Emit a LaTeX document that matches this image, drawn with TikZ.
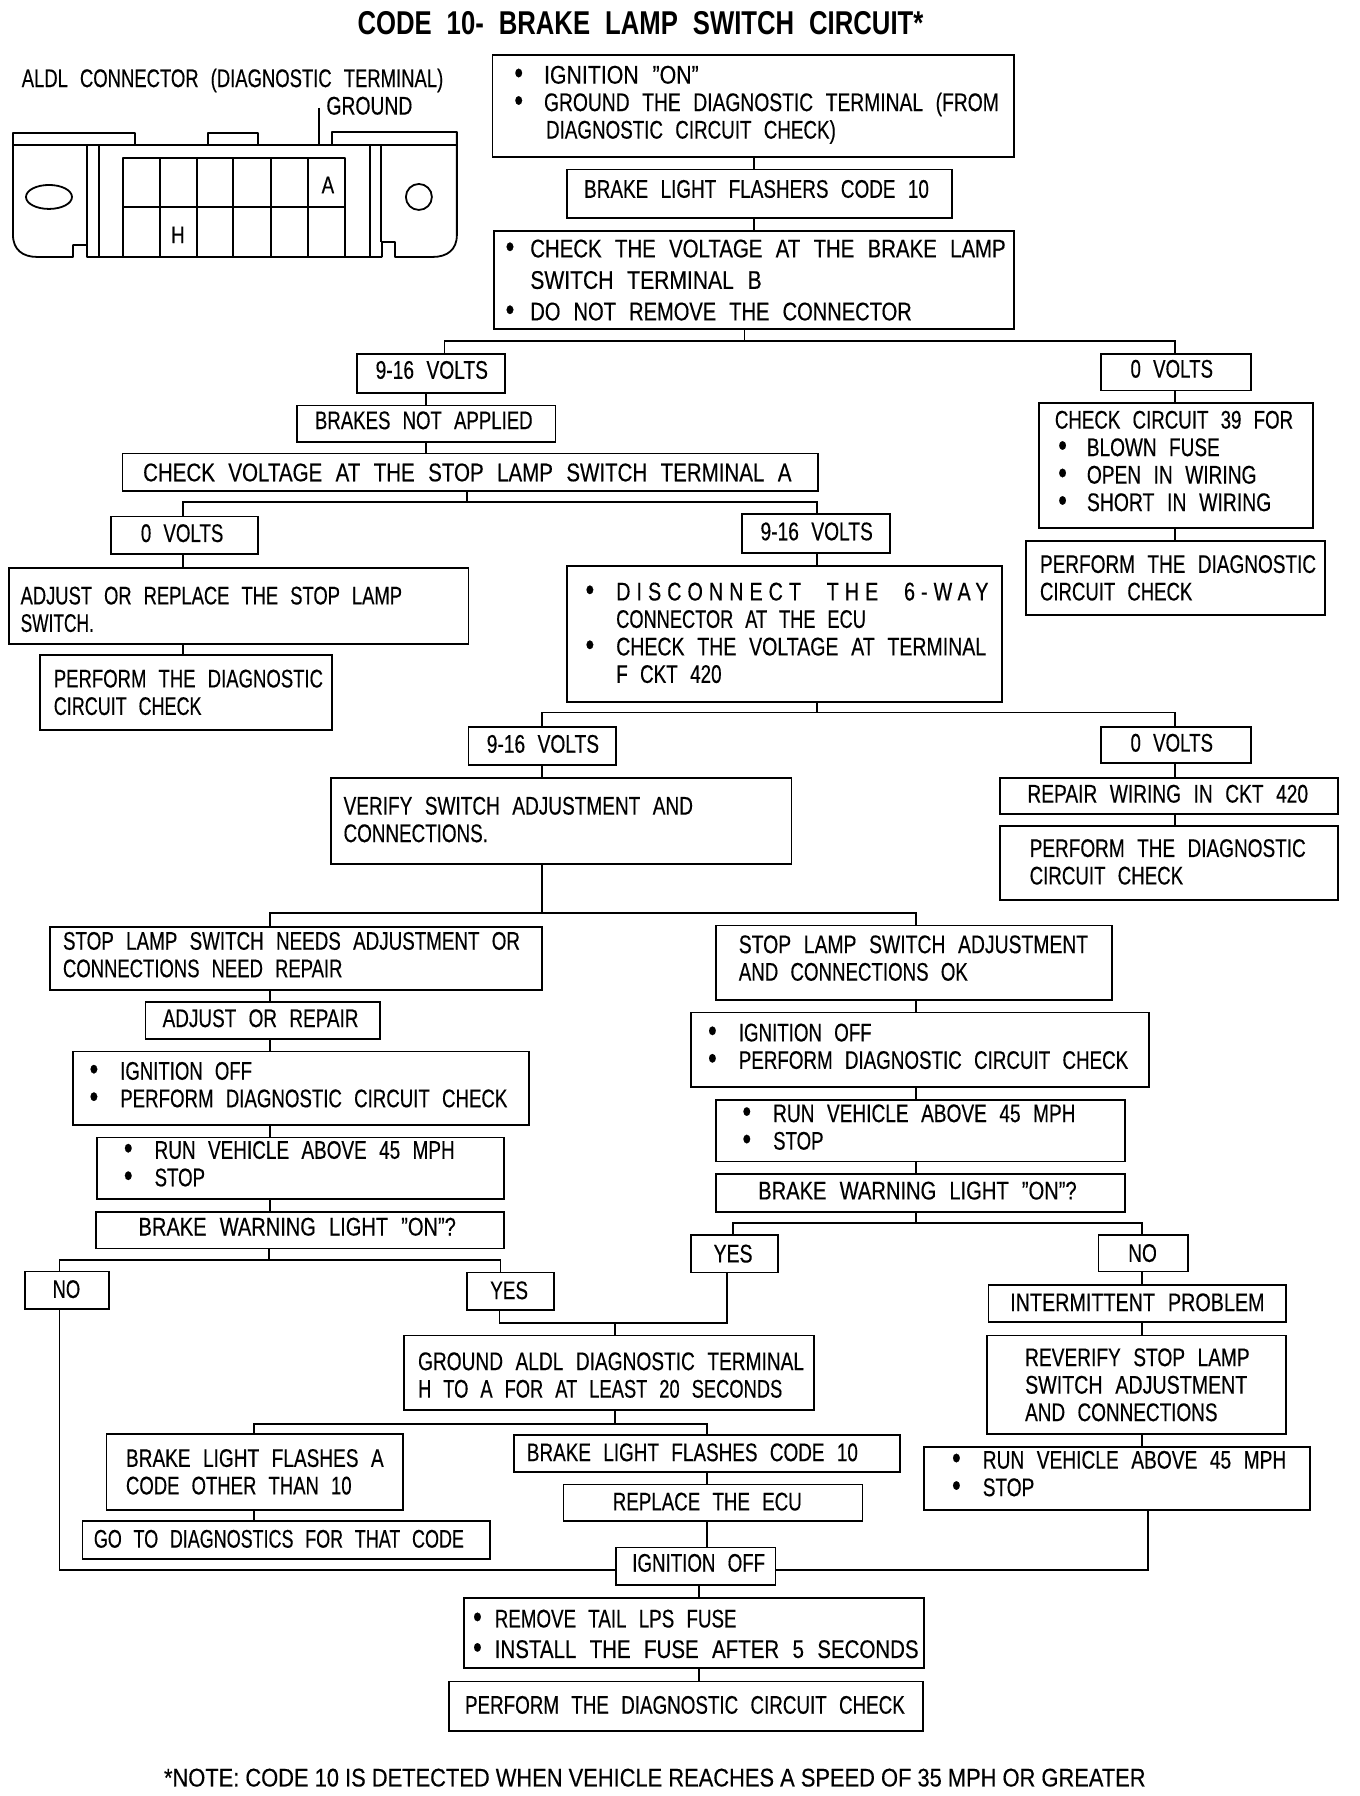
\documentclass[tikz,border=0pt]{standalone}
\usepackage{fontspec}
\usepackage{graphicx}
\setmainfont[FakeStretch=0.78,FakeBold=0.35]{Liberation Sans}
\newfontfamily\titlefont[FakeStretch=0.78]{Liberation Sans Bold}
\newfontfamily\notefont[FakeStretch=0.85,FakeBold=0.35]{Liberation Sans}
\newcommand{\fs}{\fontsize{25.5}{27.5}\selectfont\spaceskip=13pt\relax}
\newcommand{\tfs}{\fontsize{33}{35}\titlefont\spaceskip=15pt\relax}
\newsavebox{\flbox}
\newcommand{\fl}[2]{\sbox{\flbox}{#2}\pgfmathsetmacro\flk{#1*1.1457/\wd\flbox}\scalebox{\flk}[1]{\usebox{\flbox}}}
\tikzset{
  flowbox/.style={draw=black,line width=1.8pt,fill=white,inner sep=0pt,outer sep=0pt,align=left},
  link/.style={draw=black,line width=1.8pt,line join=miter},
  art/.style={draw=black,line width=1.8pt,line join=round},
  lbl/.style={inner sep=0pt,outer sep=0pt,anchor=base west,font=\fs}
}
\newcommand{\bul}[1]{\leavevmode\llap{\scalebox{1.25}{\textbullet}\hspace*{\dimexpr#1pt+2pt\relax}}}
\newcommand{\bx}[8][0]{%
  \pgfmathsetmacro\bxW{(#5-#3)*1.1457}%
  \pgfmathsetmacro\bxH{(#6-#4)*1.1457}%
  \pgfmathsetmacro\bxX{(#3+#5)/2}%
  \pgfmathsetmacro\bxY{(#4+#6)/2}%
  \pgfmathsetmacro\bxP{(#7-#3)*1.1457}%
  \pgfmathsetmacro\bxA{max(#1,0)*2*1.1457}%
  \pgfmathsetmacro\bxB{max(-(#1),0)*2*1.1457}%
  \node[flowbox,minimum width=\bxW pt,minimum height=\bxH pt,text width=\bxW pt] (#2) at (\bxX,\bxY)
    {\hrule height \bxB pt width 0pt\relax\fs\leftskip=\bxP pt\relax\rightskip=-400pt plus 1fil\relax\parindent=0pt #8\par\nointerlineskip\hrule height \bxA pt width 0pt\relax};%
}
\newcommand{\vl}[3]{\coordinate (vv) at (#3,0);\draw[link] (#1.south -| vv) -- (#2.north -| vv);}
\newcommand{\fork}[7]{%
  \coordinate (jn) at (#2,#3);\coordinate (jl) at (#5,#3);\coordinate (jr) at (#7,#3);
  \draw[link] (#1.south -| jn) -- (jn);
  \draw[link] (#4.north -| jl) -- (jl) -- (jr) -- (#6.north -| jr);}
\begin{document}
\begin{tikzpicture}[x=1.1457pt,y=-1.1457pt]
\useasboundingbox[fill=white] (0,0) rectangle (1187,1568);
% title and note
\node[inner sep=0pt,anchor=west,font=\tfs] (title) at (312,20) {\fl{494}{CODE 10- BRAKE LAMP SWITCH CIRCUIT*}};
\node[inner sep=0pt,anchor=west,font=\fontsize{25.5}{27}\notefont] (note) at (143,1552) {\fl{857}{*NOTE: CODE 10 IS DETECTED WHEN VEHICLE REACHES A SPEED OF 35 MPH OR GREATER}};
% connector drawing
\node[lbl] (aldl) at (19,76) {\fl{368}{ALDL CONNECTOR (DIAGNOSTIC TERMINAL)}};
\node[lbl] (ground) at (285,100) {\fl{75}{GROUND}};
\begin{scope}[x=1pt,y=-1pt]
\draw[art] (13,145) -- (457,145);
\draw[art] (13,145) -- (13,133) -- (135,133) -- (135,145);
\draw[art] (208,145) -- (208,133) -- (258,133) -- (258,145);
\draw[art] (332,145) -- (332,132) -- (457,132) -- (457,235) .. controls (457,250) and (447,257) .. (433,257)
  -- (395,257) -- (395,242) -- (382,242) -- (382,257) -- (87,257) -- (87,245) -- (73,245) -- (73,257) -- (37,257)
  .. controls (23,257) and (13,250) .. (13,235) -- (13,145);
\draw[art] (87,145) -- (87,257) (99,145) -- (99,257) (370,145) -- (370,257) (381,145) -- (381,242);
\draw[art] (123,158) rectangle (345,257);
\draw[art] (123,207) -- (345,207);
\foreach \gx in {160,197,233,271,308} \draw[art] (\gx,158) -- (\gx,257);
\draw[art] (49,197) ellipse (23 and 12);
\draw[art] (419,197) circle (13);
\draw[art] (319,108) -- (319,145);
\node[inner sep=0pt,font=\fontsize{24}{26}\selectfont] (pina) at (328,185) {A};
\node[inner sep=0pt,font=\fontsize{24}{26}\selectfont] (pinh) at (178,235) {H};
\end{scope}
% flow boxes
\bx[1]{b1}{430}{48}{885}{137}{475}{\bul{19}\fl{135}{IGNITION "ON"}\\\bul{19}\fl{397}{GROUND THE DIAGNOSTIC TERMINAL (FROM}\\\hspace*{2pt}\fl{253}{DIAGNOSTIC CIRCUIT CHECK)}}
\bx[4]{b2}{495}{148}{831}{190}{510}{\fl{301}{BRAKE LIGHT FLASHERS CODE 10}}
\bx{b3}{431}{202}{885}{287}{463}{\bul{14}\fl{415}{CHECK THE VOLTAGE AT THE BRAKE LAMP}\\[4pt]\fl{202}{SWITCH TERMINAL B}\\[4pt]\bul{14}\fl{333}{DO NOT REMOVE THE CONNECTOR}}
\bx[3]{v1}{312}{309}{441}{343}{328}{\fl{98}{9-16 VOLTS}}
\bx[3]{o1}{961}{309}{1092}{341}{987}{\fl{72}{0 VOLTS}}
\bx[3]{nb}{259}{354}{485}{386}{275}{\fl{190}{BRAKES NOT APPLIED}}
\bx{ck}{107}{396}{714}{429}{125}{\fl{566}{CHECK VOLTAGE AT THE STOP LAMP SWITCH TERMINAL A}}
\bx[4]{c39}{907}{352}{1146}{461}{921}{\fl{208}{CHECK CIRCUIT 39 FOR}\\\hspace*{32pt}\bul{18}\fl{116}{BLOWN FUSE}\\\hspace*{32pt}\bul{18}\fl{148}{OPEN IN WIRING}\\\hspace*{32pt}\bul{18}\fl{161}{SHORT IN WIRING}}
\bx{p1}{896}{472}{1157}{537}{908}{\fl{241}{PERFORM THE DIAGNOSTIC}\\\fl{133}{CIRCUIT CHECK}}
\bx[2]{o2}{97}{451}{225}{484}{123}{\fl{72}{0 VOLTS}}
\bx[2]{v2}{648}{449}{777}{483}{664}{\fl{98}{9-16 VOLTS}}
\bx[-3]{adj}{8}{496}{409}{562}{18}{\fl{333}{ADJUST OR REPLACE THE STOP LAMP}\\\fl{64}{SWITCH.}}
\bx{p2}{35}{572}{290}{637}{47}{\fl{235}{PERFORM THE DIAGNOSTIC}\\\fl{129}{CIRCUIT CHECK}}
\bx[1]{dis}{495}{494}{875}{613}{538}{\bul{20}\fl{325}{\addfontfeature{LetterSpace=24}\spaceskip=26pt\relax DISCONNECT THE 6-WAY}\\\fl{218}{CONNECTOR AT THE ECU}\\\bul{20}\fl{323}{CHECK THE VOLTAGE AT TERMINAL}\\\fl{92}{F CKT 420}}
\bx[2]{v3}{409}{635}{538}{668}{425}{\fl{98}{9-16 VOLTS}}
\bx[2]{o3}{961}{635}{1092}{666}{987}{\fl{72}{0 VOLTS}}
\bx[1]{ver}{289}{679}{691}{754}{300}{\fl{305}{VERIFY SWITCH ADJUSTMENT AND}\\\fl{126}{CONNECTIONS.}}
\bx[2]{rep}{873}{679}{1168}{711}{897}{\fl{245}{REPAIR WIRING IN CKT 420}}
\bx[1]{p3}{873}{721}{1168}{786}{899}{\fl{241}{PERFORM THE DIAGNOSTIC}\\\fl{134}{CIRCUIT CHECK}}
\bx[3]{sl}{44}{809}{473}{864}{55}{\fl{399}{STOP LAMP SWITCH NEEDS ADJUSTMENT OR}\\\fl{244}{CONNECTIONS NEED REPAIR}}
\bx[4]{sr}{625}{808}{971}{873}{645}{\fl{305}{STOP LAMP SWITCH ADJUSTMENT}\\\fl{200}{AND CONNECTIONS OK}}
\bx[2]{ar}{127}{875}{332}{907}{142}{\fl{171}{ADJUST OR REPAIR}}
\bx[3]{il}{64}{918}{462}{982}{105}{\bul{20}\fl{115}{IGNITION OFF}\\\bul{20}\fl{338}{PERFORM DIAGNOSTIC CIRCUIT CHECK}}
\bx[3]{ir}{603}{884}{1003}{949}{645}{\bul{20}\fl{116}{IGNITION OFF}\\\bul{20}\fl{340}{PERFORM DIAGNOSTIC CIRCUIT CHECK}}
\bx[4]{rl}{85}{993}{440}{1047}{135}{\bul{20}\fl{262}{RUN VEHICLE ABOVE 45 MPH}\\\bul{20}\fl{44}{STOP}}
\bx[3]{rr}{625}{960}{982}{1014}{675}{\bul{20}\fl{264}{RUN VEHICLE ABOVE 45 MPH}\\\bul{20}\fl{44}{STOP}}
\bx[3]{wl}{84}{1058}{440}{1090}{121}{\fl{277}{BRAKE WARNING LIGHT "ON"?}}
\bx[2]{wr}{625}{1025}{982}{1058}{662}{\fl{278}{BRAKE WARNING LIGHT "ON"?}}
\bx[1]{nl}{22}{1110}{95}{1143}{46}{\fl{24}{NO}}
\bx[1]{yl}{408}{1111}{484}{1144}{428}{\fl{33}{YES}}
\bx{yr}{603}{1078}{679}{1111}{623}{\fl{34}{YES}}
\bx{nr}{959}{1078}{1037}{1110}{985}{\fl{25}{NO}}
\bx[1]{int}{863}{1122}{1123}{1154}{882}{\fl{222}{INTERMITTENT PROBLEM}}
\bx{rev}{862}{1166}{1123}{1252}{895}{\fl{196}{REVERIFY STOP LAMP}\\\fl{194}{SWITCH ADJUSTMENT}\\\fl{168}{AND CONNECTIONS}}
\bx[4]{rn}{807}{1263}{1144}{1318}{858}{\bul{20}\fl{265}{RUN VEHICLE ABOVE 45 MPH}\\\bul{20}\fl{45}{STOP}}
\bx[-2]{gr}{353}{1166}{711}{1231}{365}{\fl{337}{GROUND ALDL DIAGNOSTIC TERMINAL}\\\fl{318}{H TO A FOR AT LEAST 20 SECONDS}}
\bx{fa}{93}{1252}{352}{1318}{110}{\fl{225}{BRAKE LIGHT FLASHES A}\\\fl{197}{CODE OTHER THAN 10}}
\bx[1]{go}{72}{1328}{428}{1361}{82}{\fl{323}{GO TO DIAGNOSTICS FOR THAT CODE}}
\bx[1]{fc}{449}{1253}{786}{1285}{460}{\fl{289}{BRAKE LIGHT FLASHES CODE 10}}
\bx[1]{ecu}{492}{1296}{753}{1328}{535}{\fl{165}{REPLACE THE ECU}}
\bx[3]{off}{538}{1351}{677}{1384}{552}{\fl{116}{IGNITION OFF}}
\bx[-1]{rm}{405}{1395}{807}{1456}{432}{\bul{11}\fl{211}{REMOVE TAIL LPS FUSE}\\[3pt]\bul{11}\fl{370}{INSTALL THE FUSE AFTER 5 SECONDS}}
\bx[1]{pf}{392}{1468}{806}{1511}{406}{\fl{384}{PERFORM THE DIAGNOSTIC CIRCUIT CHECK}}
% connectors
\vl{b1}{b2}{658}
\vl{b2}{b3}{658}
\fork{b3}{650}{298}{v1}{388}{o1}{1026}
\vl{v1}{nb}{372}
\vl{nb}{ck}{372}
\fork{ck}{408}{438}{o2}{160}{v2}{713}
\vl{o1}{c39}{1026}
\vl{c39}{p1}{1026}
\vl{o2}{adj}{160}
\vl{adj}{p2}{160}
\vl{v2}{dis}{713}
\fork{dis}{713}{622}{v3}{473}{o3}{1026}
\vl{v3}{ver}{473}
\vl{o3}{rep}{1026}
\vl{rep}{p3}{1026}
\fork{ver}{473}{797}{sl}{236}{sr}{800}
\vl{sl}{ar}{236}
\vl{ar}{il}{236}
\vl{il}{rl}{236}
\vl{rl}{wl}{236}
\vl{sr}{ir}{800}
\vl{ir}{rr}{800}
\vl{rr}{wr}{800}
\fork{wl}{235}{1100}{nl}{52}{yl}{437}
\fork{wr}{800}{1068}{yr}{640}{nr}{997}
\vl{nr}{int}{997}
\vl{int}{rev}{997}
\vl{rev}{rn}{997}
\coordinate (ya) at (436,1155);\coordinate (yb) at (635,1155);\coordinate (yc) at (537,1155);
\draw[link] (yl.south -| ya) -- (ya) -- (yb) -- (yr.south -| yb);
\draw[link] (yc) -- (gr.north -| yc);
\fork{gr}{537}{1243}{fa}{222}{fc}{617}
\vl{fa}{go}{222}
\vl{fc}{ecu}{617}
\vl{ecu}{off}{617}
\coordinate (na) at (52,1371);\coordinate (nc) at (1002,1371);
\draw[link] (nl.south -| na) -- (na) -- (na -| off.west);
\draw[link] (na -| off.east) -- (nc) -- (rn.south -| nc);
\vl{off}{rm}{610}
\vl{rm}{pf}{610}
\end{tikzpicture}
\end{document}
